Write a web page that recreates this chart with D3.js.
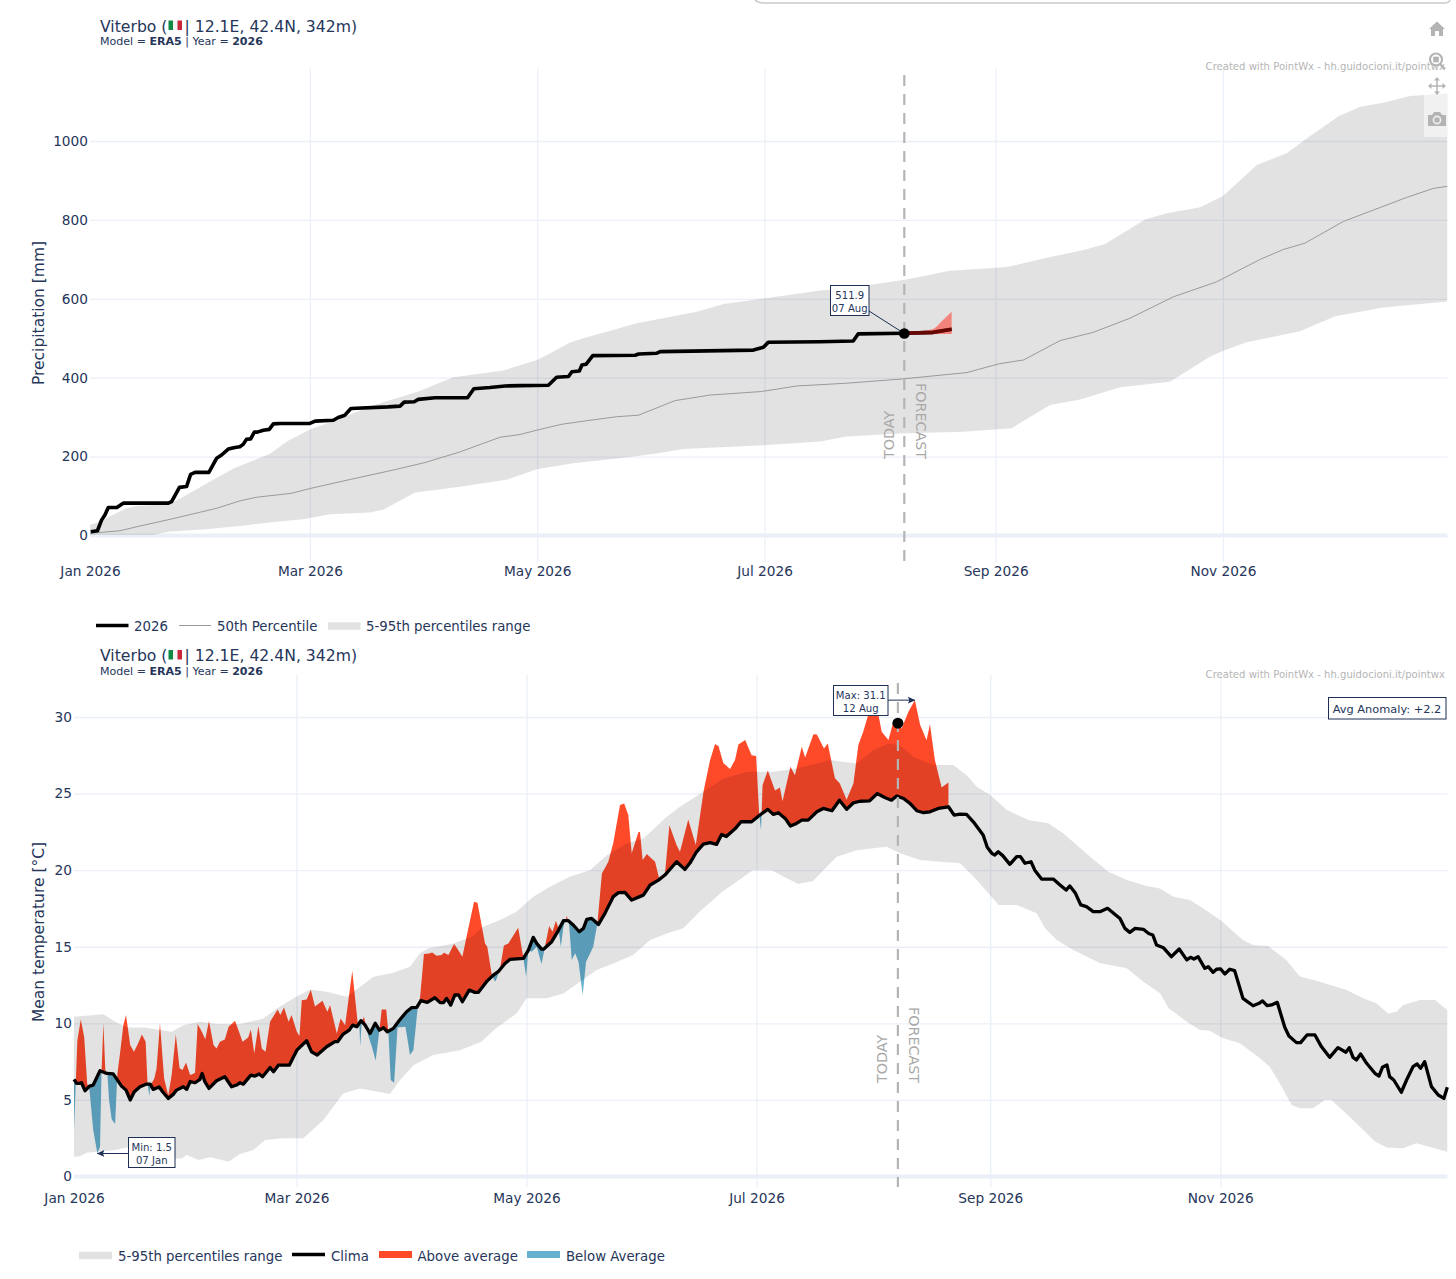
<!DOCTYPE html>
<html><head><meta charset="utf-8">
<script src="https://cdn.jsdelivr.net/npm/d3@7/dist/d3.min.js"></script>
<style>
html,body{margin:0;padding:0;background:#fff}
svg{display:block}
text{font-family:"DejaVu Sans",Verdana,sans-serif;fill:#26365a}
</style></head><body>
<svg id="c" width="1456" height="1279"></svg>
<script>
// ---- shared labels ----
const monthDays = [0,59,120,181,243,304];
const monthLabels = ["Jan 2026","Mar 2026","May 2026","Jul 2026","Sep 2026","Nov 2026"];
const precipTicks = [0,200,400,600,800,1000];
const tempTicks = [0,5,10,15,20,25,30];
const todayDay = 218.5;
const lastDay = 364.2;

// ---- precipitation, [day of year, mm] ----
const precip2026 = [[0.2,9.7],[2,12],[3.1,39],[4,52],[4.9,71],[7.2,71],[8.9,82],[21,82],[21.9,86],[24,122],[25.9,124],[27,155],[28.2,160],[31.9,160],[34,196],[35.3,204],[37.1,219],[38.9,223],[40.2,225],[41.1,231],[42,244],[43.1,245],[44.1,262],[44.9,262],[46.5,267],[48.1,269],[49.2,283],[51,284],[59,284],[60.4,290],[65.3,292],[66.6,299],[68.4,305],[70,322],[80,326],[83.2,328],[84.3,338],[87,339],[88.1,345],[92.6,349],[101.3,349],[103,372],[107.3,375],[111.4,379],[115.4,380],[123,381],[125.2,401],[128.4,403],[129.3,415],[131.3,417],[132,432],[133.1,434],[134.9,456],[146.3,457],[147.2,460],[152.1,462],[153,466],[178,470],[180.7,477],[182,490],[195.9,491],[204.8,493],[206.1,511],[218.5,512.5],[226.2,515],[231.2,523]];
const precipMedian = [[0,5.5],[8,12],[13.4,24],[21.5,41],[34,69],[40.3,88],[44.7,97],[54.1,107],[59,119],[69.8,142],[81.4,166],[89.9,185],[99.3,212],[110,249],[115.4,256],[119.9,267],[126.6,282],[133.3,291],[141.3,301],[147.2,305],[157,342],[166.4,356],[180.2,365],[189.6,379],[203,386],[218.2,397],[235.3,413],[243.8,435],[250.5,445],[260.3,494],[269.2,515],[279.1,551],[290.7,605],[302.3,643],[314,700],[320.2,725],[326,741],[336.3,796],[344.4,825],[353.3,857],[360.5,880],[364.2,885]];
const precipP95 = [[0,27],[2.7,35],[5.4,49],[9.8,69],[12.5,75],[21.5,80],[24.2,94],[31.3,132],[38.5,170],[48.3,207],[52.8,238],[59,269],[63.5,284],[76.9,333],[88.1,365],[97.5,401],[110.9,418],[119.9,445],[123.5,462],[128.8,489],[132.4,500],[146.7,538],[162.8,567],[170,587],[180.7,601],[195.9,621],[203,627],[218.6,648],[230.7,671],[243.3,679],[246.4,681],[256.7,704],[266.6,724],[272.4,739],[283.1,801],[288.9,817],[297.9,832],[304.1,861],[313.1,939],[321.1,969],[326,1003],[335,1063],[340.8,1087],[347,1097],[354.2,1114],[364.2,1121]];
const precipP5 = [[0,1],[17,1],[21.5,10],[31.3,16],[42,26],[50,35],[57.2,41],[64.4,54],[75.1,58],[78.7,65],[87.2,109],[92.1,115],[100.2,125],[112,142],[119.9,168],[129.7,183],[142.2,196],[152.1,208],[159.2,219],[180.7,229],[195.9,238],[203,251],[218.6,259],[234.3,263],[247.3,272],[257.6,331],[265.7,345],[276.4,376],[289.8,390],[300.5,453],[304.1,468],[310.4,490],[324.7,518],[334.1,556],[347,578],[364.2,593]];
const forecastLow = [[218.5,510],[231.2,511]];
const forecastHigh = [[218.5,515],[224,519],[226.2,523],[227.2,530],[228.2,540],[229.5,552],[231.2,567]];

// ---- temperature, [day of year, deg C] ----
const tempClima = [[0,6.34],[0.7,6.08],[1.6,6.08],[2,6.12],[2.9,5.6],[4.1,5.9],[5.1,5.97],[6.9,6.9],[8.7,6.73],[10.4,6.7],[12.6,5.9],[13.8,5.64],[14.9,5],[16,5.53],[17.5,5.86],[19.1,6.03],[20.2,6.03],[21,5.69],[22.6,5.84],[23.5,5.53],[25,5.1],[26.4,5.38],[27.2,5.64],[29,5.86],[29.9,5.69],[30.8,6.2],[32.1,6.12],[33.4,6.34],[34,6.73],[34.7,6.19],[35.8,5.75],[37.8,6.25],[40,6.51],[41.8,5.86],[43.1,5.97],[44,6.12],[44.9,6.03],[46.9,6.62],[48,6.56],[49.1,6.69],[50,6.51],[52,7.12],[52.9,6.84],[54.2,7.27],[57.1,7.27],[59.1,8.25],[61.7,8.86],[63,8.14],[64.5,7.93],[67,8.47],[69.2,8.8],[69.9,8.8],[71.4,9.3],[73,9.56],[73.9,9.88],[75,9.78],[76.1,10.17],[77.2,9.88],[78.5,9.34],[79.9,10],[81,9.56],[82.1,9.71],[83.1,9.45],[84.7,9.67],[86.3,10.2],[88.2,10.76],[89.5,11.02],[90.9,11.04],[92,11.48],[93.7,11.37],[95.7,11.67],[97.1,11.35],[98,11.35],[98.8,11.63],[99.9,11.19],[101,11.85],[102,11.85],[103,11.41],[104.8,12.17],[106.3,12.02],[107.2,12.02],[109.4,12.72],[111.2,13.15],[112.5,13.37],[114.3,13.91],[115.6,14.17],[119.2,14.24],[120.5,14.78],[121.8,15.61],[122.7,15.22],[124,14.85],[124.6,14.85],[126.7,15.33],[128.5,16.09],[129.8,16.7],[131.1,16.7],[132.4,16.42],[134,15.98],[135.1,16.2],[136,16.79],[137.3,16.85],[139.1,16.46],[140.8,17.18],[143,18.27],[144.4,18.53],[146.1,18.55],[147.9,18.05],[151,18.37],[152.8,19.03],[155,19.35],[156.7,19.68],[159.8,20.55],[162,20.05],[163.4,20.48],[165.1,21.2],[166.9,21.7],[168.7,21.8],[170.4,21.68],[171.75,22.33],[173,22.2],[175.3,22.7],[176.9,23.16],[179.7,23.16],[181.9,23.6],[184,23.97],[185.5,23.64],[186.8,23.75],[188.6,23.38],[190,22.88],[191.6,23.05],[193,23.27],[194.7,23.27],[197,23.81],[198.7,24.03],[201,23.88],[203,24.57],[204.9,23.97],[206.7,24.4],[208.4,24.5],[211,24.53],[213,25],[215,24.75],[216.8,24.57],[218.2,24.84],[220,24.68],[221.7,24.36],[223.5,23.88],[225.3,23.75],[227,23.81],[229.2,24.03],[231.9,24.14],[233.4,23.6],[235,23.66],[236.7,23.64],[238.5,23.16],[241.1,22.3],[242.2,21.49],[243.4,21.1],[244.2,20.99],[245.1,21.2],[246.3,20.95],[248.2,20.38],[250,20.88],[251,20.88],[252.2,20.45],[253.8,20.55],[254.8,20],[256.6,19.42],[259.7,19.42],[261.5,19.03],[263.1,18.7],[264.1,18.97],[265.5,18.53],[267,17.73],[268.5,17.62],[270.3,17.29],[272.1,17.29],[274.1,17.51],[276.5,17.03],[277.4,16.85],[278.7,16.2],[280,15.94],[281.4,16.2],[283.6,16.14],[285,15.87],[286.1,15.77],[287.1,15.11],[288.9,14.94],[291,14.35],[293.1,14.85],[295.1,14.14],[296.1,14.31],[297,14.2],[298.1,14.35],[299.9,13.59],[300.8,13.7],[302.1,13.33],[303,13.53],[304.1,13.55],[305.2,13.22],[306.5,13.53],[307.8,13.44],[309.2,12.29],[310,11.63],[312.7,11.15],[314.3,11.31],[315.2,11.46],[316.4,11.15],[317.6,11.2],[319.1,11.37],[321.1,9.74],[322.2,9.17],[324.2,8.74],[325.3,8.74],[327,9.24],[329.1,9.24],[330.8,8.48],[333,7.78],[335.2,8.41],[337.3,8.11],[338.2,8.41],[339.2,7.78],[340.1,7.61],[341.2,8],[342.8,7.39],[345,6.74],[346.1,6.56],[347,7.13],[348.2,7.28],[348.9,6.52],[350,6.3],[352,5.5],[353.4,6.3],[355.1,7.17],[356.2,7.35],[357.1,7.06],[358.2,7.5],[360,5.87],[361.8,5.32],[363.3,5.1],[364.2,5.82]];
const temp2026 = [[0,3],[0.9,8.9],[1.8,10.25],[2.7,9.1],[3.5,6.08],[4.1,5.64],[5.1,3.03],[6.2,1.5],[6.9,1.94],[7.3,6.84],[7.8,10],[8.3,6.95],[8.85,6.73],[9.3,4.99],[10,3.73],[10.9,3.42],[11.5,6.7],[12.2,8.03],[13.1,9.9],[13.8,10.54],[14.9,8.58],[15.9,8.14],[16.8,8.58],[18,9.27],[19,8.8],[19.5,6.08],[20,5.25],[20.3,5.97],[21.3,6.4],[21.9,7.06],[22.8,10],[23.9,6.4],[25,5.3],[25.9,6.62],[27,9.27],[28,7.06],[28.8,6.95],[29.7,7.45],[30.8,6.62],[31.5,6.7],[32.1,6.77],[32.8,9.95],[33.9,9.45],[34.8,8.95],[35.8,10.15],[37,8.58],[37.8,8.36],[38.7,8.8],[40,8.95],[41,9.78],[42.7,10.17],[44.7,8.8],[46.2,9.08],[46.9,9.6],[47.8,8.03],[48.9,9.82],[49.8,8.36],[50.8,8.14],[52,10.1],[54,10.9],[54.7,10.54],[55.7,11.04],[56.9,10.1],[57.7,10.54],[59.1,9.45],[59.8,9.17],[60.4,11.5],[61.7,11.56],[62.8,12.2],[63.9,11.1],[65.9,11.47],[67.2,10.75],[67.9,11.19],[69.7,9.34],[70.7,10.32],[71.9,9.88],[73.8,13.43],[75.2,10.1],[75.7,9.78],[75.9,8.47],[76.3,10.1],[76.9,10.43],[78,9.23],[79,8.47],[80,7.56],[81,9.56],[81.6,10.9],[82.8,10.9],[83.4,9.34],[84,6.3],[84.9,6.12],[85.8,9.73],[87.9,9.78],[89.1,7.93],[90,8.25],[91.1,10.9],[91.8,11.74],[92.8,14.52],[94.4,14.57],[95,14.63],[96.2,14.41],[97.5,14.46],[98.1,14.61],[99.3,14.46],[100.8,15.18],[101.9,14.78],[103,14.35],[104.1,15.65],[106.1,17.94],[107,17.87],[109,15.22],[109.6,15],[110.8,13.15],[111.7,12.72],[112.1,12.93],[113,13.59],[114,15.07],[115.2,15.22],[117.8,16.24],[119.2,14.24],[119.9,13.04],[120.5,14.78],[121.4,14.67],[122.7,15],[124,13.87],[124.9,15],[126,16.35],[126.9,15.98],[127.8,16.7],[128.5,16.2],[129.1,15],[129.8,16.3],[130.7,17],[131.3,16.5],[132,14.13],[132.9,14.57],[133.8,14.02],[134.9,11.85],[135.8,14.02],[137.7,15],[138.8,16.52],[140,19.79],[141.7,20.55],[143,21.75],[144.8,24.25],[145.9,24.36],[147,23.6],[147.9,21.1],[149.7,22.5],[150.1,22.5],[150.8,20.66],[151.9,21.05],[154.1,20.55],[155.2,19.46],[156.7,19.68],[157.9,22.94],[159.8,21.64],[160.7,21.2],[162.9,23.3],[164.9,21.64],[167,25.2],[168.7,27.2],[170,28.23],[170.9,28.1],[172.2,27],[174,26.6],[175.3,27.2],[176.2,28.2],[178,28.5],[179.7,27.5],[180.9,27.45],[181.7,23.7],[182.2,22.6],[182.6,25.55],[184,26.5],[185.9,25.2],[187.2,25.4],[187.9,24.5],[190,26.75],[191.2,26.2],[193,28.06],[193.9,27.36],[196.1,28.88],[197,28.86],[198.9,27.95],[199.9,28.27],[201.8,26],[203.1,25.66],[204.9,24.6],[206.7,25.66],[208,28.16],[209.3,29.03],[210.7,30.2],[213.3,30.2],[214.2,29.03],[216,28.5],[217.3,29.7],[218.4,29.6],[219.5,29.25],[221.3,30.34],[223,31.1],[224.4,29.47],[226.1,28.49],[227,29.53],[228.3,27.2],[230.1,25.4],[231.9,25.73]];
const tempP95 = [[0,10.43],[7.8,10.6],[10.9,10.1],[14,9.73],[18.8,9.73],[22.8,9.56],[25.9,9.45],[29,9.88],[33.4,10.1],[37.8,9.95],[44,9.95],[50.2,10.32],[53.8,10.97],[58.2,11.63],[62.6,12.21],[67,12.06],[72.3,11.73],[75.9,12.39],[79.4,13.04],[84.7,13.3],[89.1,13.7],[91.75,14.57],[94,14.9],[100.6,15.22],[105.5,15.65],[108.5,16.3],[113,16.74],[117.4,17.3],[121.8,18.27],[126.2,18.92],[131.5,19.57],[136.8,20],[141.3,20.98],[146.6,21.75],[151,22.07],[157.2,23.49],[160.7,24.14],[166.9,25.12],[172.2,25.99],[178.4,26.42],[185.5,26.42],[191.6,26.64],[200.5,27.19],[207.6,26.97],[212,27.84],[216,28.27],[219,28.16],[222.6,27.4],[227.9,26.86],[233.2,26.86],[236.8,26.2],[239.4,25.45],[243,24.9],[247.4,23.93],[253.1,23.27],[258.4,23.06],[262.4,22.4],[269.5,20.88],[274.3,19.9],[279.2,19.36],[284.5,18.97],[288,18.8],[291.6,18.27],[296,18.05],[299.5,17.5],[304,16.75],[307,16.1],[310,15.44],[312.7,15.11],[316.7,15.05],[321.5,14.13],[325.1,13.05],[330.4,12.72],[337.5,12.18],[341.9,11.63],[345.4,11.31],[348.5,10.65],[350.7,10.76],[352.5,11.2],[356.9,11.52],[360.9,11.52],[364.2,10.87]];
const tempP5 = [[0,1.29],[1.6,1.33],[3.4,1.55],[10.9,1.73],[14,1.9],[18,1.8],[22,1.5],[27.2,1.18],[28.6,1.18],[29.9,1.4],[33,1.07],[36.1,1.25],[41,0.96],[44,1.47],[47.6,1.73],[50.7,2.38],[55.5,2.49],[60.8,2.49],[66.1,3.68],[71.4,5.42],[75.9,5.75],[83.8,5.38],[86.5,6.3],[90,7.27],[95.3,7.93],[102.4,8.25],[108,8.8],[112,9.7],[117.4,10.65],[120,11.63],[125.4,11.63],[129.8,11.95],[134.2,12.72],[138.6,13.48],[143,13.91],[148.3,14.46],[152.8,15.44],[157.2,15.87],[161.6,16.2],[166,17.3],[172,18.6],[176,19.3],[180,20],[185,20],[188,19.6],[192,19.1],[196,19.3],[199.6,20.2],[202.3,20.88],[207.6,21.3],[215.5,21.53],[219,21.1],[224.4,20.66],[229.7,20.55],[235,20.45],[238.5,19.6],[242.1,18.6],[245.2,17.72],[250,17.72],[255.3,17.18],[257.5,16.2],[260.6,15.44],[265,14.79],[272.2,13.92],[279.2,13.59],[283.6,12.72],[288,11.96],[290.3,10.98],[295.1,10.11],[298.6,9.57],[301.2,9.52],[304.7,9.02],[309.2,8.7],[314.5,7.72],[317.1,7.17],[319.8,6.08],[322.9,4.67],[325.1,4.45],[328.6,4.45],[331.7,5],[333.5,5],[339.2,3.69],[345,2.28],[348.1,1.9],[352.5,1.84],[356,2.17],[364.2,1.62]];

// ---- callout values ----
const todayPrecip = 511.9, todayPrecipLabel = ["511.9","07 Aug"];
const todayTemp = 29.6;
const maxDay = 223, maxTemp = 31.1, maxLabel = ["Max: 31.1","12 Aug"];
const minDay = 6.2, minTemp = 1.5, minLabel = ["Min: 1.5","07 Jan"];
const avgAnomaly = "Avg Anomaly: +2.2";

// ---- colours ----
const GRID="#ebf0f8", BAND="rgba(0,0,0,0.112)", RED="#ff4a2a", BLUE="#66b0d0", NAVY="#1d2f55", GREY="#b4b4b4";

const svg = d3.select("#c");
const defs = svg.append("defs");
defs.append("marker").attr("id","arr").attr("viewBox","0 0 8 8").attr("refX",7).attr("refY",4)
  .attr("markerWidth",8).attr("markerHeight",8).attr("markerUnits","userSpaceOnUse").attr("orient","auto")
  .append("path").attr("d","M0,0.5L7.5,4L0,7.5L1.5,4Z").attr("fill",NAVY);

function frame(g, o){
  const x = d3.scaleLinear().domain([0,lastDay]).range([o.left,o.right]);
  const y = d3.scaleLinear().domain(o.yDomain).range(o.yRange);
  const ax = g.append("g").attr("transform",`translate(0,${o.bottom})`)
    .call(d3.axisBottom(x).tickValues(monthDays).tickFormat((d,i)=>monthLabels[i]).tickSize(-(o.bottom-o.top)).tickPadding(o.labelPad));
  const ay = g.append("g").attr("transform",`translate(${o.left},0)`)
    .call(d3.axisLeft(y).tickValues(o.yTicks).tickFormat(d3.format("d")).tickSize(-(o.right-o.left)).tickPadding(2));
  [ax,ay].forEach(a=>{
    a.select(".domain").remove();
    a.selectAll("line").attr("stroke",GRID).attr("stroke-width",1.3);
    a.selectAll("text").style("font-size","13.7px").style("font-family",'"DejaVu Sans"').attr("fill","#26365a");
  });
  ax.selectAll(".tick").filter(d=>d===0).select("line").remove();
  g.append("line").attr("x1",o.left).attr("x2",o.right).attr("y1",y(0)).attr("y2",y(0)).attr("stroke",GRID).attr("stroke-width",4);
  g.append("text").attr("transform",`translate(${o.titleX},${o.titleY}) rotate(-90)`).attr("text-anchor","middle").attr("font-size",15.5).text(o.yTitle);
  return {x,y};
}
function bandArea(x,y,hi,lo){
  const path = d3.line().x(d=>x(d[0])).y(d=>y(d[1]));
  return path(hi) + "L" + path(lo.slice().reverse()).slice(1) + "Z";
}
function todayMark(g,x,top,bottom,todayY,forecastY,todayX,forecastX){
  g.append("line").attr("x1",x(todayDay)).attr("x2",x(todayDay)).attr("y1",top).attr("y2",bottom)
    .attr("stroke",GREY).attr("stroke-width",2.2).attr("stroke-dasharray","11,8");
  g.append("text").attr("transform",`translate(${todayX},${todayY}) rotate(-90)`).attr("font-size",14.3).style("fill","#a8a8a8").text("TODAY");
  g.append("text").attr("transform",`translate(${forecastX},${forecastY}) rotate(90)`).attr("font-size",14.3).attr("text-anchor","end").style("fill","#a8a8a8").text("FORECAST");
}
function callout(g,bx,by,bw,bh,lines,x1,y1,x2,y2,arrow){
  g.append("line").attr("x1",x1).attr("y1",y1).attr("x2",x2).attr("y2",y2).attr("stroke",NAVY).attr("stroke-width",1)
    .attr("marker-end",arrow?"url(#arr)":null);
  g.append("rect").attr("x",bx).attr("y",by).attr("width",bw).attr("height",bh).attr("fill","#fff").attr("stroke",NAVY).attr("stroke-width",1);
  lines.forEach((t,i)=>g.append("text").attr("x",bx+bw/2).attr("y",by+(bh/2)+(i?11:-1.5)).attr("text-anchor","middle").attr("font-size",10.1).text(t));
}
function title(g,y0){
  g.append("text").attr("x",100).attr("y",y0).attr("font-size",15.65).text("Viterbo (");
  [["#0f8a45",0],["#f4f4f4",1],["#c8283a",2]].forEach(([c,i])=>g.append("rect").attr("x",168.5+i*4.5).attr("y",y0-11).attr("width",4.5).attr("height",9.5).attr("fill",c));
  g.append("text").attr("x",184.5).attr("y",y0).attr("font-size",15.65).text("| 12.1E, 42.4N, 342m)");
  const s = g.append("text").attr("x",100).attr("y",y0+13.5).attr("font-size",11.05);
  s.append("tspan").text("Model = ");
  s.append("tspan").attr("font-weight","bold").text("ERA5");
  s.append("tspan").text(" | Year = ");
  s.append("tspan").attr("font-weight","bold").text("2026");
}
function watermark(g,y){
  g.append("text").attr("x",1445).attr("y",y).attr("text-anchor","end").attr("font-size",10.07).style("fill","#b5b5b5").text("Created with PointWx - hh.guidocioni.it/pointwx");
}

// ============== top chart ==============
const g1 = svg.append("g");
const top1 = {left:90,right:1447.3,top:68,bottom:562,labelPad:4,yDomain:[0,1000],yRange:[535.5,141],yTicks:precipTicks,titleX:44,titleY:313,yTitle:"Precipitation [mm]"};
const {x:x1,y:y1} = frame(g1,top1);
const line1 = d3.line().x(d=>x1(d[0])).y(d=>y1(d[1]));
g1.append("path").attr("d",bandArea(x1,y1,precipP95,precipP5)).attr("fill",BAND);
g1.append("path").attr("d",line1(precipMedian)).attr("fill","none").attr("stroke","#9a9a9a").attr("stroke-width",1);
g1.append("path").attr("d",line1(precip2026)).attr("fill","none").attr("stroke","#000").attr("stroke-width",3.6).attr("stroke-linejoin","round");
g1.append("path").attr("d",bandArea(x1,y1,forecastHigh,forecastLow)).attr("fill","rgba(255,75,60,0.62)");
g1.append("path").attr("d",line1(precip2026.filter(d=>d[0]>=todayDay))).attr("fill","none").attr("stroke","#650805").attr("stroke-width",3.6);
todayMark(g1,x1,75,562,459,459,894,916);
callout(g1,830.5,285.5,38.5,30,todayPrecipLabel,869,311,x1(todayDay),y1(todayPrecip),false);
g1.append("circle").attr("cx",x1(todayDay)).attr("cy",y1(todayPrecip)).attr("r",5.3).attr("fill","#000");
title(g1,31.5);
watermark(g1,70);

// legend top
function swatchLine(g,xa,xb,y,c,w){g.append("line").attr("x1",xa).attr("x2",xb).attr("y1",y).attr("y2",y).attr("stroke",c).attr("stroke-width",w);}
function legendText(g,xa,y,t){g.append("text").attr("x",xa).attr("y",y).attr("font-size",13.3).text(t);}
swatchLine(g1,96,128.5,625.5,"#000",3.6); legendText(g1,134,631,"2026");
swatchLine(g1,179,211,625.5,"#9a9a9a",1); legendText(g1,217,631,"50th Percentile");
swatchLine(g1,328,360.5,626,"#e2e2e2",7.5); legendText(g1,366,631,"5-95th percentiles range");

// ============== bottom chart ==============
const g2 = svg.append("g");
const top2 = {left:74,right:1447.3,top:675,bottom:1187,labelPad:6,yDomain:[0,30],yRange:[1176.5,717],yTicks:tempTicks,titleX:44,titleY:932,yTitle:"Mean temperature [°C]"};
const {x:x2,y:y2} = frame(g2,top2);

// anomaly ribbons: observed series against clima, split where they cross
const climaAt = d3.scaleLinear().domain(tempClima.map(d=>d[0])).range(tempClima.map(d=>d[1]));
const obsAt = d3.scaleLinear().domain(temp2026.map(d=>d[0])).range(temp2026.map(d=>d[1]));
const endDay = temp2026[temp2026.length-1][0];
const knots = Array.from(new Set(temp2026.map(d=>d[0]).concat(tempClima.map(d=>d[0]).filter(d=>d<=endDay)))).sort((a,b)=>a-b);
const ribbon = [];
knots.forEach((d,i)=>{
  if(i){
    const p=knots[i-1], a=obsAt(p)-climaAt(p), b=obsAt(d)-climaAt(d);
    if(a*b<0){const t=p+(d-p)*a/(a-b); ribbon.push(t);}
  }
  ribbon.push(d);
});
const aboveArea = d3.area().x(d=>x2(d)).y0(d=>y2(climaAt(d))).y1(d=>y2(Math.max(obsAt(d),climaAt(d))));
const belowArea = d3.area().x(d=>x2(d)).y0(d=>y2(climaAt(d))).y1(d=>y2(Math.min(obsAt(d),climaAt(d))));
g2.append("path").attr("d",aboveArea(ribbon)).attr("fill",RED);
g2.append("path").attr("d",belowArea(ribbon)).attr("fill",BLUE);
g2.append("path").attr("d",bandArea(x2,y2,tempP95,tempP5)).attr("fill",BAND);
const line2 = d3.line().x(d=>x2(d[0])).y(d=>y2(d[1]));
g2.append("path").attr("d",line2(tempClima)).attr("fill","none").attr("stroke","#000").attr("stroke-width",3.3).attr("stroke-linejoin","round");
todayMark(g2,x2,683,1187,1083,1083,887,908.5);
g2.append("circle").attr("cx",x2(todayDay)).attr("cy",y2(todayTemp)).attr("r",5.5).attr("fill","#000");
callout(g2,833.5,685.5,54.5,30,maxLabel,888,y2(maxTemp),x2(maxDay),y2(maxTemp),true);
callout(g2,128.5,1137.5,46.5,30,minLabel,128.5,y2(minTemp),x2(minDay),y2(minTemp),true);
g2.append("rect").attr("x",1328.5).attr("y",697.5).attr("width",117.5).attr("height",21.5).attr("fill","#fff").attr("stroke",NAVY).attr("stroke-width",1);
g2.append("text").attr("x",1387).attr("y",712.5).attr("text-anchor","middle").attr("font-size",11.35).text(avgAnomaly);
title(g2,661);
watermark(g2,678);

// legend bottom
swatchLine(g2,79,112,1255.5,"#e2e2e2",7.5); legendText(g2,118,1260.5,"5-95th percentiles range");
swatchLine(g2,292,325,1254.5,"#000",3.4); legendText(g2,331,1260.5,"Clima");
swatchLine(g2,379,412,1254.5,RED,7); legendText(g2,417.5,1260.5,"Above average");
swatchLine(g2,527,560,1254.5,BLUE,7); legendText(g2,566,1260.5,"Below Average");

// ============== page chrome ==============
const chrome = svg.append("g");
chrome.append("path").attr("d","M755,0Q758,3 764,3L1444,3Q1449,3 1450,0").attr("fill","none").attr("stroke","#c9c9c9").attr("stroke-width",1.4);
chrome.append("rect").attr("x",1424).attr("y",93).attr("width",23).attr("height",44).attr("fill","rgba(255,255,255,0.5)");
const ICON="#b4b4b4";
chrome.append("path").attr("fill",ICON).attr("d","M1437,21.5L1445,29L1443,29L1443,36L1439,36L1439,31L1435,31L1435,36L1431,36L1431,29L1429,29Z");
chrome.append("circle").attr("cx",1436).attr("cy",59.5).attr("r",6).attr("fill","none").attr("stroke",ICON).attr("stroke-width",2.2);
chrome.append("rect").attr("x",1433.2).attr("y",56.7).attr("width",5.6).attr("height",5.6).attr("fill",ICON);
chrome.append("line").attr("x1",1440).attr("y1",64).attr("x2",1445).attr("y2",69).attr("stroke",ICON).attr("stroke-width",2.4);
chrome.append("path").attr("fill","none").attr("stroke",ICON).attr("stroke-width",1.5).attr("d","M1437,78L1437,94M1429,86L1445,86");
chrome.append("path").attr("fill",ICON).attr("d","M1437,77L1440,80.5L1434,80.5ZM1437,95L1440,91.5L1434,91.5ZM1428,86L1431.5,83L1431.5,89ZM1446,86L1442.5,83L1442.5,89Z");
chrome.append("path").attr("fill",ICON).attr("d","M1428,115H1432L1434,112H1440L1442,115H1446V126H1428Z");
chrome.append("circle").attr("cx",1437).attr("cy",120).attr("r",3.6).attr("fill","none").attr("stroke","#f0f0f0").attr("stroke-width",1.6);
</script>
</body></html>
